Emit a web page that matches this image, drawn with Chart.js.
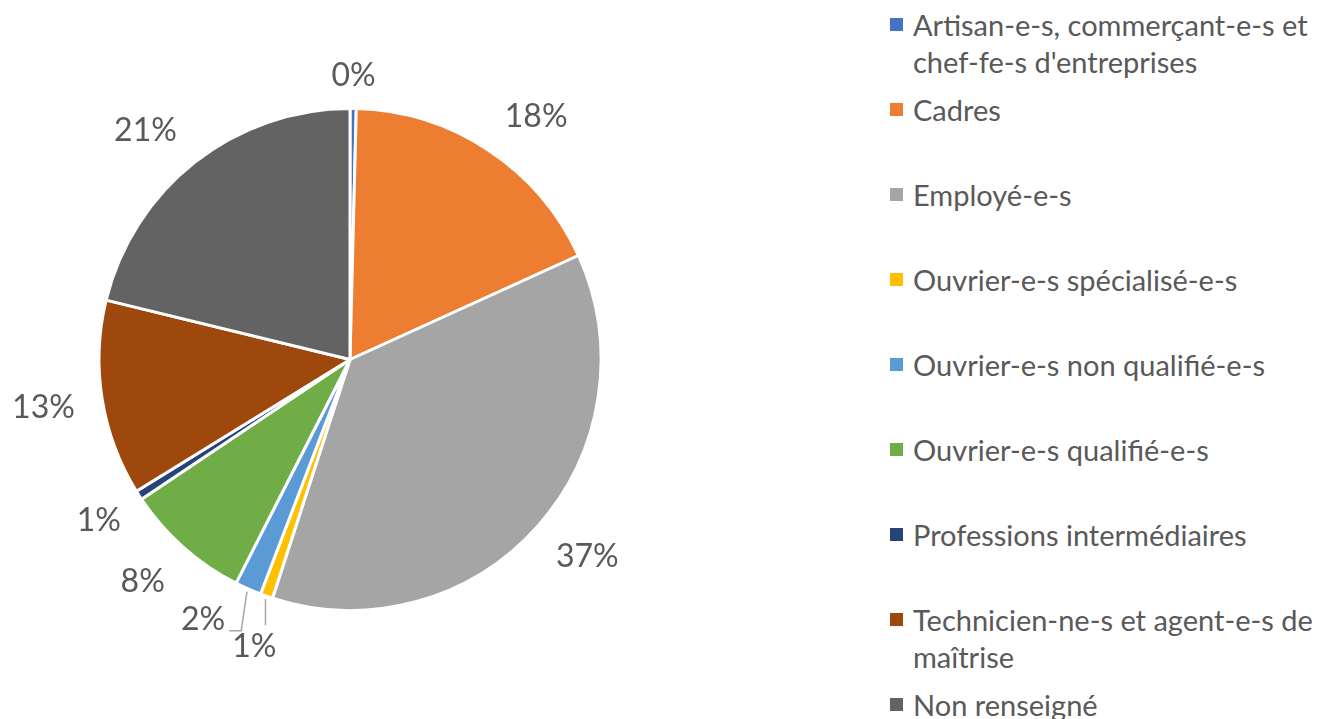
<!DOCTYPE html>
<html>
<head>
<meta charset="utf-8">
<script src="https://cdn.jsdelivr.net/npm/chart.js@4/dist/chart.umd.min.js"></script>
<style>
  html, body { margin: 0; padding: 0; background: #fff; }
  #wrap { position: relative; width: 1324px; height: 719px; overflow: hidden; }
  #pieBox { position: absolute; left: 0; top: 0; width: 700px; height: 719px; }
  #legend { position: absolute; left: 890px; top: 0; width: 434px; font-family: Lato, "Open Sans", sans-serif; font-size: 29px; color: #595959; }
  .item { position: absolute; left: 0; width: 434px; line-height: 37px; }
  .sw { position: absolute; left: 0; top: 12px; width: 13px; height: 13px; }
  .txt { position: absolute; left: 23px; width: 420px; }
  .w { white-space: nowrap; }
</style>
</head>
<body>
<div id="wrap">
  <div id="pieBox"><canvas id="pie"></canvas></div>
  <div id="legend"></div>
</div>
<script>
const categories = [
  'Artisan-e-s, commerçant-e-s et chef-fe-s d\'entreprises',
  'Cadres',
  'Employé-e-s',
  'Ouvrier-e-s spécialisé-e-s',
  'Ouvrier-e-s non qualifié-e-s',
  'Ouvrier-e-s qualifié-e-s',
  'Professions intermédiaires',
  'Technicien-ne-s et agent-e-s de maîtrise',
  'Non renseigné'
]
const shares = [0.4, 17.8, 36.8, 0.8, 1.7, 8.1, 0.6, 12.6, 21.2]
const colors = ['#4472C4', '#ED7D31', '#A5A5A5', '#FFC000', '#5B9BD5', '#70AD47', '#264478', '#9E480E', '#636363']

// label tweaks: [angle shift in degrees, extra distance, leader style]
const labelNudge = [
  [0, -6, null], [4, 0, null], [-2, 0, null], [-1, 6, 'top'], [5.5, 0, 'side'],
  [1.4, 3, null], [0, -3, null], [0, 2, null], [-3.6, 0, null]
]

const total = shares.reduce((a, b) => a + b, 0)
const pctText = shares.map(v => Math.round(v / total * 100) + '%')

// legend, words kept whole so lines break only at spaces
const legend = document.getElementById('legend')
categories.forEach((name, i) => {
  const it = document.createElement('div')
  it.className = 'item'
  it.style.top = (6 + 85 * i) + 'px'
  const sw = document.createElement('div')
  sw.className = 'sw'
  sw.style.background = colors[i]
  const txt = document.createElement('div')
  txt.className = 'txt'
  name.split(' ').forEach((word, k) => {
    if (k > 0) txt.appendChild(document.createTextNode(' '))
    const s = document.createElement('span')
    s.className = 'w'
    s.textContent = word
    txt.appendChild(s)
  })
  it.appendChild(sw)
  it.appendChild(txt)
  legend.appendChild(it)
})

const outerLabels = {
  id: 'outerLabels',
  afterDatasetsDraw(chart) {
    const ctx = chart.ctx
    const meta = chart.getDatasetMeta(0)
    ctx.save()
    ctx.font = '32px Lato, "Open Sans", sans-serif'
    ctx.fillStyle = '#595959'
    ctx.textAlign = 'center'
    ctx.textBaseline = 'middle'
    const gap = 24
    meta.data.forEach((arc, i) => {
      const p = arc.getProps(['x', 'y', 'startAngle', 'endAngle', 'outerRadius'], true)
      const mid = (p.startAngle + p.endAngle) / 2
      const nd = labelNudge[i]
      const a = mid + nd[0] * Math.PI / 180
      const w = ctx.measureText(pctText[i]).width
      const h = 30
      const d = p.outerRadius + gap + Math.abs(Math.cos(a)) * w / 2 + Math.abs(Math.sin(a)) * h / 2 + nd[1]
      const lx = p.x + Math.cos(a) * d
      const ly = p.y + Math.sin(a) * d
      if (nd[2]) {
        const sx = p.x + Math.cos(mid) * (p.outerRadius + 3)
        const sy = p.y + Math.sin(mid) * (p.outerRadius + 3)
        ctx.beginPath()
        ctx.strokeStyle = '#A6A6A6'
        ctx.lineWidth = 1.5
        ctx.moveTo(sx, sy)
        if (nd[2] === 'top') {
          ctx.lineTo(sx, ly - h / 2 - 6)
        } else {
          const ex = lx + w / 2 + 4
          ctx.lineTo(ex + 12, ly + 11)
          ctx.lineTo(ex, ly + 11)
        }
        ctx.stroke()
      }
      ctx.fillText(pctText[i], lx, ly)
    })
    ctx.restore()
  }
}

new Chart(document.getElementById('pie'), {
  type: 'pie',
  data: {
    labels: categories,
    datasets: [{
      data: shares,
      backgroundColor: colors,
      borderColor: '#ffffff',
      borderWidth: 3
    }]
  },
  options: {
    responsive: true,
    maintainAspectRatio: false,
    animation: false,
    layout: { padding: { top: 107, bottom: 107, left: 90, right: 90 } },
    plugins: {
      legend: { display: false },
      tooltip: { enabled: false }
    }
  },
  plugins: [outerLabels]
})
</script>
</body>
</html>
